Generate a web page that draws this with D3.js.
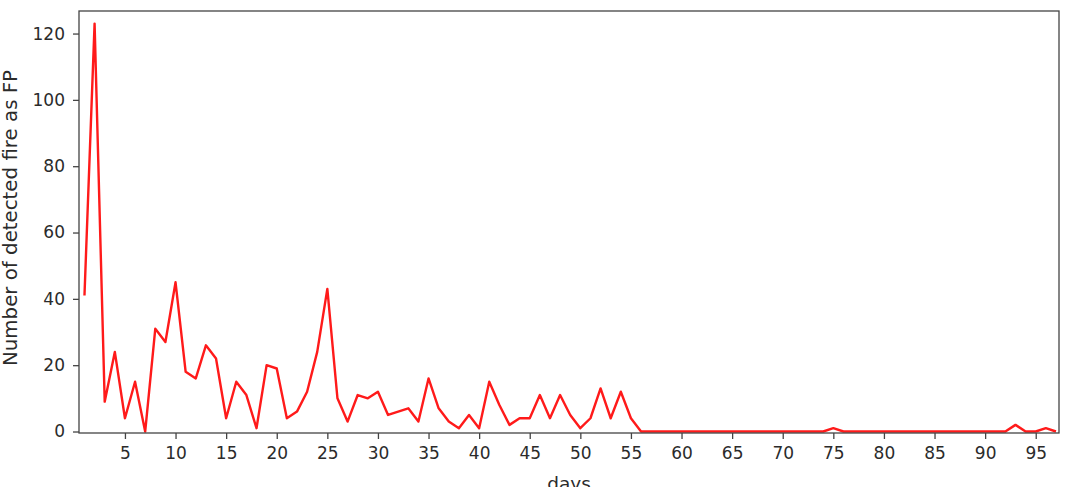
<!DOCTYPE html>
<html>
<head>
<meta charset="utf-8">
<script src="https://cdn.jsdelivr.net/npm/d3@7"></script>
<style>
  body { margin: 0; background: #fff; }
  svg text { font-family: "DejaVu Sans", sans-serif; fill: #2b2b2b; }
</style>
</head>
<body>
<svg id="chart" width="1083" height="487"></svg>
<script>
// detected fire counted as FP, per day (days 1..97)
var days = d3.range(1, 98);
var fpCounts = [
  41, 123, 9, 24, 4, 15, 0, 31, 27, 45,
  18, 16, 26, 22, 4, 15, 11, 1, 20, 19,
  4, 6, 12, 24, 43, 10, 3, 11, 10, 12,
  5, 6, 7, 3, 16, 7, 3, 1, 5, 1,
  15, 8, 2, 4, 4, 11, 4, 11, 5, 1,
  4, 13, 4, 12, 4, 0, 0, 0, 0, 0,
  0, 0, 0, 0, 0, 0, 0, 0, 0, 0,
  0, 0, 0, 0, 1, 0, 0, 0, 0, 0,
  0, 0, 0, 0, 0, 0, 0, 0, 0, 0,
  0, 0, 2, 0, 0, 1, 0
];
var xTicks = d3.range(5, 100, 5);
var yTicks = [0, 20, 40, 60, 80, 100, 120];

var margin = {left: 79, top: 11, right: 1083 - 1059, bottom: 487 - 433};
var W = 1083 - margin.left - margin.right;
var H = 487 - margin.top - margin.bottom;

var svg = d3.select("#chart");
var g = svg.append("g").attr("transform", "translate(" + margin.left + "," + margin.top + ")");

var x = d3.scaleLinear().domain([0.46, 97.3]).range([0, W]);
var y = d3.scaleLinear().domain([-0.45, 126.8]).range([H, 0]);

// axes (ticks outward, matplotlib-ish)
var xAxis = g.append("g").attr("transform", "translate(0," + H + ")")
    .call(d3.axisBottom(x).tickValues(xTicks).tickSize(6).tickPadding(8).tickSizeOuter(0));
var yAxis = g.append("g")
    .call(d3.axisLeft(y).tickValues(yTicks).tickSize(6).tickPadding(8).tickSizeOuter(0));

[xAxis, yAxis].forEach(function(a){
    a.select(".domain").remove();
    a.selectAll(".tick line").attr("stroke", "#444").attr("stroke-width", 1.3);
    a.selectAll(".tick text").style("font-size", "17px").attr("fill", "#2b2b2b");
});

// the series
var line = d3.line()
    .x(function(d, i){ return x(days[i]); })
    .y(function(d){ return y(d); });

g.append("path")
    .datum(fpCounts)
    .attr("fill", "none")
    .attr("stroke", "#ff1a1a")
    .attr("stroke-width", 2.4)
    .attr("stroke-linejoin", "round")
    .attr("d", line);

// frame
g.append("rect")
    .attr("width", W).attr("height", H)
    .attr("fill", "none")
    .attr("stroke", "#444").attr("stroke-width", 1.3);

// labels
svg.append("text")
    .attr("x", margin.left + W / 2).attr("y", 490)
    .attr("text-anchor", "middle")
    .style("font-size", "18.5px")
    .text("days");

svg.append("text")
    .attr("transform", "translate(17,218) rotate(-90)")
    .attr("text-anchor", "middle")
    .style("font-size", "19.8px")
    .text("Number of detected fire as FP");
</script>
</body>
</html>
